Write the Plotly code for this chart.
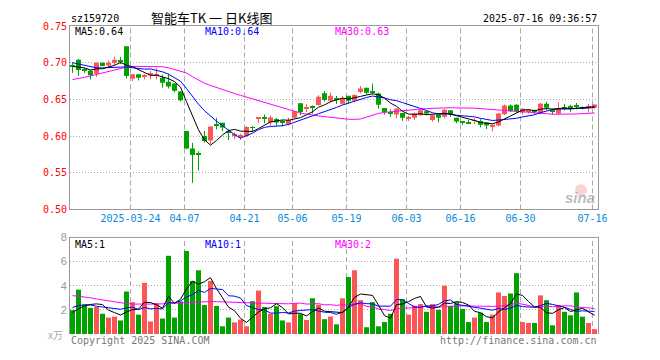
import pandas as pd
import plotly.graph_objects as go

# ---------------- data ----------------
holidays = ["2025-04-04", "2025-05-01", "2025-05-02", "2025-05-05", "2025-06-02"]
dates = [d.strftime("%Y-%m-%d") for d in pd.bdate_range("2025-03-10", "2025-07-16")
         if d.strftime("%Y-%m-%d") not in holidays]

open_ = [0.697, 0.704, 0.691, 0.689, 0.685, 0.700, 0.696, 0.700, 0.703, 0.7223,
         0.678, 0.6842, 0.681, 0.6829, 0.682, 0.6794, 0.6741, 0.6715, 0.6609, 0.607,
         0.5829, 0.576, 0.600, 0.594, 0.616, 0.618, 0.606, 0.601, 0.600, 0.600,
         0.6112, 0.624, 0.6245, 0.6184, 0.6232, 0.6186, 0.6162, 0.625, 0.6447, 0.6378,
         0.6391, 0.6425, 0.6583, 0.6482, 0.6497, 0.6439, 0.6548, 0.6483, 0.6601, 0.6658,
         0.6594, 0.6579, 0.6382, 0.6308, 0.6294, 0.6316, 0.624, 0.625, 0.6285, 0.6338,
         0.6219, 0.6294, 0.6263, 0.6351, 0.625, 0.619, 0.6178, 0.6206, 0.6206, 0.6184,
         0.6128, 0.6145, 0.6298, 0.6417, 0.6426, 0.632, 0.6337, 0.6339, 0.6307, 0.6439,
         0.6339, 0.6307, 0.6375, 0.6396, 0.641, 0.6383, 0.6385, 0.6386]
high = [0.7004, 0.705, 0.693, 0.690, 0.700, 0.700, 0.703, 0.708, 0.708, 0.7223,
        0.6842, 0.6842, 0.6842, 0.689, 0.6925, 0.6835, 0.685, 0.6715, 0.6609, 0.607,
        0.5908, 0.5794, 0.607, 0.613, 0.625, 0.618, 0.609, 0.605, 0.603, 0.6135,
        0.6135, 0.6255, 0.6293, 0.628, 0.6245, 0.6219, 0.625, 0.6337, 0.6447, 0.6438,
        0.6416, 0.6557, 0.6614, 0.6592, 0.6548, 0.6548, 0.6548, 0.657, 0.668, 0.6658,
        0.6715, 0.6592, 0.6382, 0.6364, 0.6378, 0.6316, 0.6276, 0.632, 0.637, 0.6351,
        0.629, 0.6294, 0.6373, 0.6351, 0.625, 0.6206, 0.622, 0.6241, 0.6232, 0.6184,
        0.616, 0.6316, 0.643, 0.643, 0.6435, 0.638, 0.6364, 0.636, 0.6452, 0.647,
        0.6373, 0.6461, 0.6439, 0.6426, 0.6452, 0.6404, 0.6439, 0.643]
low = [0.686, 0.682, 0.686, 0.677, 0.6807, 0.695, 0.693, 0.697, 0.698, 0.6785,
       0.675, 0.6758, 0.6772, 0.6772, 0.6772, 0.666, 0.6649, 0.6596, 0.6473, 0.582,
       0.5364, 0.553, 0.5912, 0.589, 0.609, 0.607, 0.5945, 0.596, 0.5945, 0.599,
       0.6057, 0.6175, 0.6175, 0.614, 0.6131, 0.6131, 0.6144, 0.624, 0.6285, 0.6328,
       0.6307, 0.6416, 0.6469, 0.646, 0.6439, 0.6426, 0.6439, 0.6461, 0.6583, 0.657,
       0.657, 0.6373, 0.6294, 0.6263, 0.6241, 0.6206, 0.6206, 0.622, 0.6276, 0.6285,
       0.6197, 0.6189, 0.6241, 0.6263, 0.6176, 0.6154, 0.6163, 0.6163, 0.6119, 0.6097,
       0.6066, 0.6132, 0.6285, 0.6329, 0.632, 0.6294, 0.6307, 0.6294, 0.6294, 0.6351,
       0.6294, 0.6294, 0.6351, 0.633, 0.6364, 0.6364, 0.632, 0.6373]
close = [0.695, 0.690, 0.690, 0.6829, 0.700, 0.6956, 0.700, 0.7039, 0.702, 0.682,
         0.6842, 0.6794, 0.682, 0.686, 0.683, 0.6728, 0.6675, 0.6618, 0.6487, 0.5829,
         0.5741, 0.575, 0.5934, 0.613, 0.614, 0.6118, 0.605, 0.602, 0.601, 0.6125,
         0.611, 0.6245, 0.6235, 0.6254, 0.6184, 0.6184, 0.622, 0.6337, 0.6328, 0.638,
         0.6389, 0.6535, 0.649, 0.6548, 0.6495, 0.6513, 0.6483, 0.6561, 0.6649, 0.6592,
         0.6592, 0.6426, 0.6329, 0.6307, 0.6373, 0.625, 0.6242, 0.6307, 0.6351, 0.6307,
         0.6285, 0.625, 0.636, 0.6294, 0.6197, 0.6189, 0.6176, 0.6208, 0.6154, 0.6145,
         0.6154, 0.6307, 0.6417, 0.6338, 0.6338, 0.6373, 0.634, 0.6338, 0.6439, 0.6386,
         0.6338, 0.6373, 0.6373, 0.6395, 0.6408, 0.6382, 0.6386, 0.643]
volume = [1.97, 3.68, 2.43, 2.16, 2.24, 1.68, 1.36, 1.44, 1.12, 3.52,
          2.64, 1.60, 4.24, 1.04, 2.56, 1.28, 6.48, 1.36, 2.70, 6.88,
          4.40, 5.28, 2.40, 4.40, 2.32, 0.64, 1.36, 0.96, 1.20, 0.64,
          2.72, 3.60, 2.24, 1.68, 2.30, 1.12, 0.96, 2.56, 1.65, 1.17,
          2.96, 2.43, 1.23, 1.44, 0.80, 2.96, 4.72, 5.28, 2.80, 0.56,
          2.64, 0.64, 0.99, 1.68, 6.24, 2.88, 1.60, 2.35, 2.48, 1.84,
          2.48, 2.00, 4.00, 2.32, 2.64, 2.08, 0.99, 1.36, 1.76, 0.99,
          1.60, 3.44, 3.15, 3.36, 5.04, 0.99, 0.91, 0.91, 3.20, 2.80,
          0.72, 2.40, 1.84, 1.55, 3.44, 1.44, 0.91, 0.40]

# moving-average values at the start of the window (history before the first day)
price_ma5_head = [0.695, 0.694, 0.693, 0.690]
price_ma10_head = [0.700, 0.698, 0.696, 0.694, 0.693, 0.693, 0.693, 0.694, 0.694]
price_ma30_head = [0.677, 0.678, 0.680, 0.682, 0.684, 0.686, 0.688, 0.691, 0.693, 0.694,
                   0.695, 0.695, 0.6955, 0.6955, 0.695, 0.6945, 0.693, 0.691, 0.689, 0.686,
                   0.681, 0.676, 0.672, 0.669, 0.666, 0.663, 0.660, 0.658, 0.6555]
vol_ma5_head = [1.80, 2.10, 2.35, 2.45]
vol_ma10_head = [2.20, 2.35, 2.42, 2.40, 2.30, 2.24, 2.20, 2.12, 2.05]
vol_ma30_head = [3.18, 3.13, 3.08, 3.00, 2.90, 2.82, 2.72, 2.62, 2.56, 2.52,
                 2.48, 2.47, 2.47, 2.47, 2.48, 2.50, 2.53, 2.56, 2.60, 2.62,
                 2.64, 2.66, 2.68, 2.69, 2.68, 2.66, 2.64, 2.62, 2.60]

tick_dates = ["2025-03-24", "2025-04-07", "2025-04-21", "2025-05-06", "2025-05-19",
              "2025-06-03", "2025-06-16", "2025-06-30", "2025-07-16"]
tick_labels = ["2025-03-24", "04-07", "04-21", "05-06", "05-19", "06-03", "06-16", "06-30", "07-16"]
price_ticks = [0.50, 0.55, 0.60, 0.65, 0.70, 0.75]
vol_ticks = [2, 4, 6, 8]

title_text = "智能车TK 一 日K线图"
code_text = "sz159720"
time_text = "2025-07-16 09:36:57"
price_legend = ["MA5:0.64", "MA10:0.64", "MA30:0.63"]
vol_legend = ["MA5:1", "MA10:1", "MA30:2"]


def moving_avg(values, n, head):
    s = pd.Series(values, dtype=float).rolling(n).mean().tolist()
    return list(head) + s[n - 1:]


# ---------------- styling ----------------
RED = "#fa5656"
GREEN = "#00a200"
GRID = "#aaaaaa"
FRAME = "#999999"
MONO = "DejaVu Sans Mono"

n = len(close)
idx = list(range(n))
r0 = -5 / 12
xr = [r0, r0 + n]

# target window coordinates (the page body adds an 8px margin)
OFF = 8
L, R, T, B = 70, 598, 21, 340
W, H = 660 - 2 * OFF, 360 - 2 * OFF


def pxx(x):
    return (x - L) / (R - L)


def pyy(y):
    return (B - y) / (B - T)


up = [c >= o for o, c in zip(open_, close)]
cols = [RED if u else GREEN for u in up]
body_base = [min(o, c) for o, c in zip(open_, close)]
body_h = [max(abs(c - o), 0.0013) for o, c in zip(open_, close)]

fig = go.Figure()

# wicks
for flag, col in [(True, RED), (False, GREEN)]:
    wx, wy = [], []
    for i in idx:
        if up[i] == flag:
            wx += [i, i, None]
            wy += [low[i], high[i], None]
    fig.add_trace(go.Scatter(x=wx, y=wy, mode="lines", line=dict(color=col, width=1),
                             xaxis="x", yaxis="y", hoverinfo="skip", showlegend=False))

# bodies
fig.add_trace(go.Bar(x=idx, y=body_h, base=body_base, width=5 / 6,
                     marker=dict(color=cols, line=dict(width=0)),
                     xaxis="x", yaxis="y", hoverinfo="skip", showlegend=False))

# price MAs
for nn, head, col in [(30, price_ma30_head, "#ff00ff"), (10, price_ma10_head, "#0000ff"),
                      (5, price_ma5_head, "#000000")]:
    fig.add_trace(go.Scatter(x=idx, y=moving_avg(close, nn, head), mode="lines",
                             line=dict(color=col, width=1), xaxis="x", yaxis="y",
                             hoverinfo="skip", showlegend=False))

# volume bars
fig.add_trace(go.Bar(x=idx, y=volume, width=5 / 6,
                     marker=dict(color=cols, line=dict(width=0)),
                     xaxis="x2", yaxis="y2", hoverinfo="skip", showlegend=False))
for nn, head, col in [(30, vol_ma30_head, "#ff00ff"), (10, vol_ma10_head, "#0000ff"),
                      (5, vol_ma5_head, "#000000")]:
    fig.add_trace(go.Scatter(x=idx, y=moving_avg(volume, nn, head), mode="lines",
                             line=dict(color=col, width=1), xaxis="x2", yaxis="y2",
                             hoverinfo="skip", showlegend=False))

tick_pos = [dates.index(d) - 1 / 3 for d in tick_dates]

shapes = []
for tp in tick_pos:
    for xref, yref in [("x", "y domain"), ("x2", "y2 domain")]:
        shapes.append(dict(type="line", xref=xref, yref=yref,
                           x0=tp, x1=tp, y0=0, y1=1,
                           line=dict(color=GRID, width=1, dash="5px,3px"), layer="below"))
# top border of volume panel
shapes.append(dict(type="line", xref="paper", yref="paper", x0=0, x1=1,
                   y0=pyy(240), y1=pyy(240), line=dict(color=FRAME, width=1)))
# watermark eye
shapes.append(dict(type="circle", xref="paper", yref="paper",
                   x0=pxx(575), x1=pxx(587), y0=pyy(197), y1=pyy(185),
                   fillcolor="rgba(240,110,110,0.30)", line=dict(width=0)))

ann = []


def text(x, y, s, color, size=10, family=MONO, anchor="left"):
    ann.append(dict(x=pxx(x), y=pyy(y), xref="paper", yref="paper", text=s, showarrow=False,
                    xanchor=anchor, yanchor="middle", borderpad=0,
                    font=dict(family=family, size=size, color=color)))


text(70, 13, code_text, "#000000", 10)
text(150, 12, title_text, "#000000", 13, family="Noto Sans CJK SC")
text(598, 13, time_text, "#000000", 10, anchor="right")
for (s, col, x) in zip(price_legend, ["#000000", "#0000ff", "#ff00ff"], [74, 204, 334]):
    text(x, 27, s, col, 10)
for (s, col, x) in zip(vol_legend, ["#000000", "#0000ff", "#ff00ff"], [74, 204, 334]):
    text(x, 247, s, col, 10)
text(64, 341, "x万", "#aaaaaa", 10, family="Noto Sans CJK SC", anchor="right")
text(70, 347, "Copyright 2025 SINA.COM", "#777777", 10)
text(598, 347, "http://finance.sina.com.cn", "#777777", 10, anchor="right")
text(596, 199, "<b><i>sina</i></b>", "rgba(150,150,150,0.65)", 15,
     family="Liberation Sans", anchor="right")

fig.update_layout(
    width=W, height=H,
    margin=dict(l=L - OFF, r=W - (R - OFF), t=T - OFF, b=H - (B - OFF), pad=0),
    paper_bgcolor="white", plot_bgcolor="white",
    barmode="overlay", showlegend=False, hovermode=False,
    shapes=shapes, annotations=ann,
    xaxis=dict(domain=[0, 1], anchor="y", range=xr, showgrid=False, zeroline=False,
               showline=True, mirror=True, linecolor=FRAME, linewidth=1,
               tickmode="array", tickvals=tick_pos, ticktext=tick_labels, ticks="",
               tickfont=dict(family=MONO, size=10, color="#0a8ad8")),
    yaxis=dict(domain=[pyy(211), 1], anchor="x", range=[0.50, 0.75], zeroline=False,
               showline=True, mirror=True, linecolor=FRAME, linewidth=1,
               showgrid=True, gridcolor=GRID, griddash="1px,2px", gridwidth=1,
               tickmode="array", tickvals=price_ticks,
               ticktext=[f"{v:.2f}" for v in price_ticks], ticks="",
               tickfont=dict(family=MONO, size=10, color="#ff0000")),
    xaxis2=dict(domain=[0, 1], anchor="y2", range=xr, showgrid=False, zeroline=False,
                showline=False, showticklabels=False, ticks=""),
    yaxis2=dict(domain=[0, pyy(240)], anchor="x2", range=[0, 8], zeroline=False,
                showline=True, mirror=True, linecolor=FRAME, linewidth=1,
                showgrid=True, gridcolor=GRID, griddash="1px,2px", gridwidth=1,
                tickmode="array", tickvals=vol_ticks, ticktext=[str(v) for v in vol_ticks],
                ticks="", tickfont=dict(family="Liberation Sans", size=11, color="#999999")),
)

fig.write_html("out.html")
